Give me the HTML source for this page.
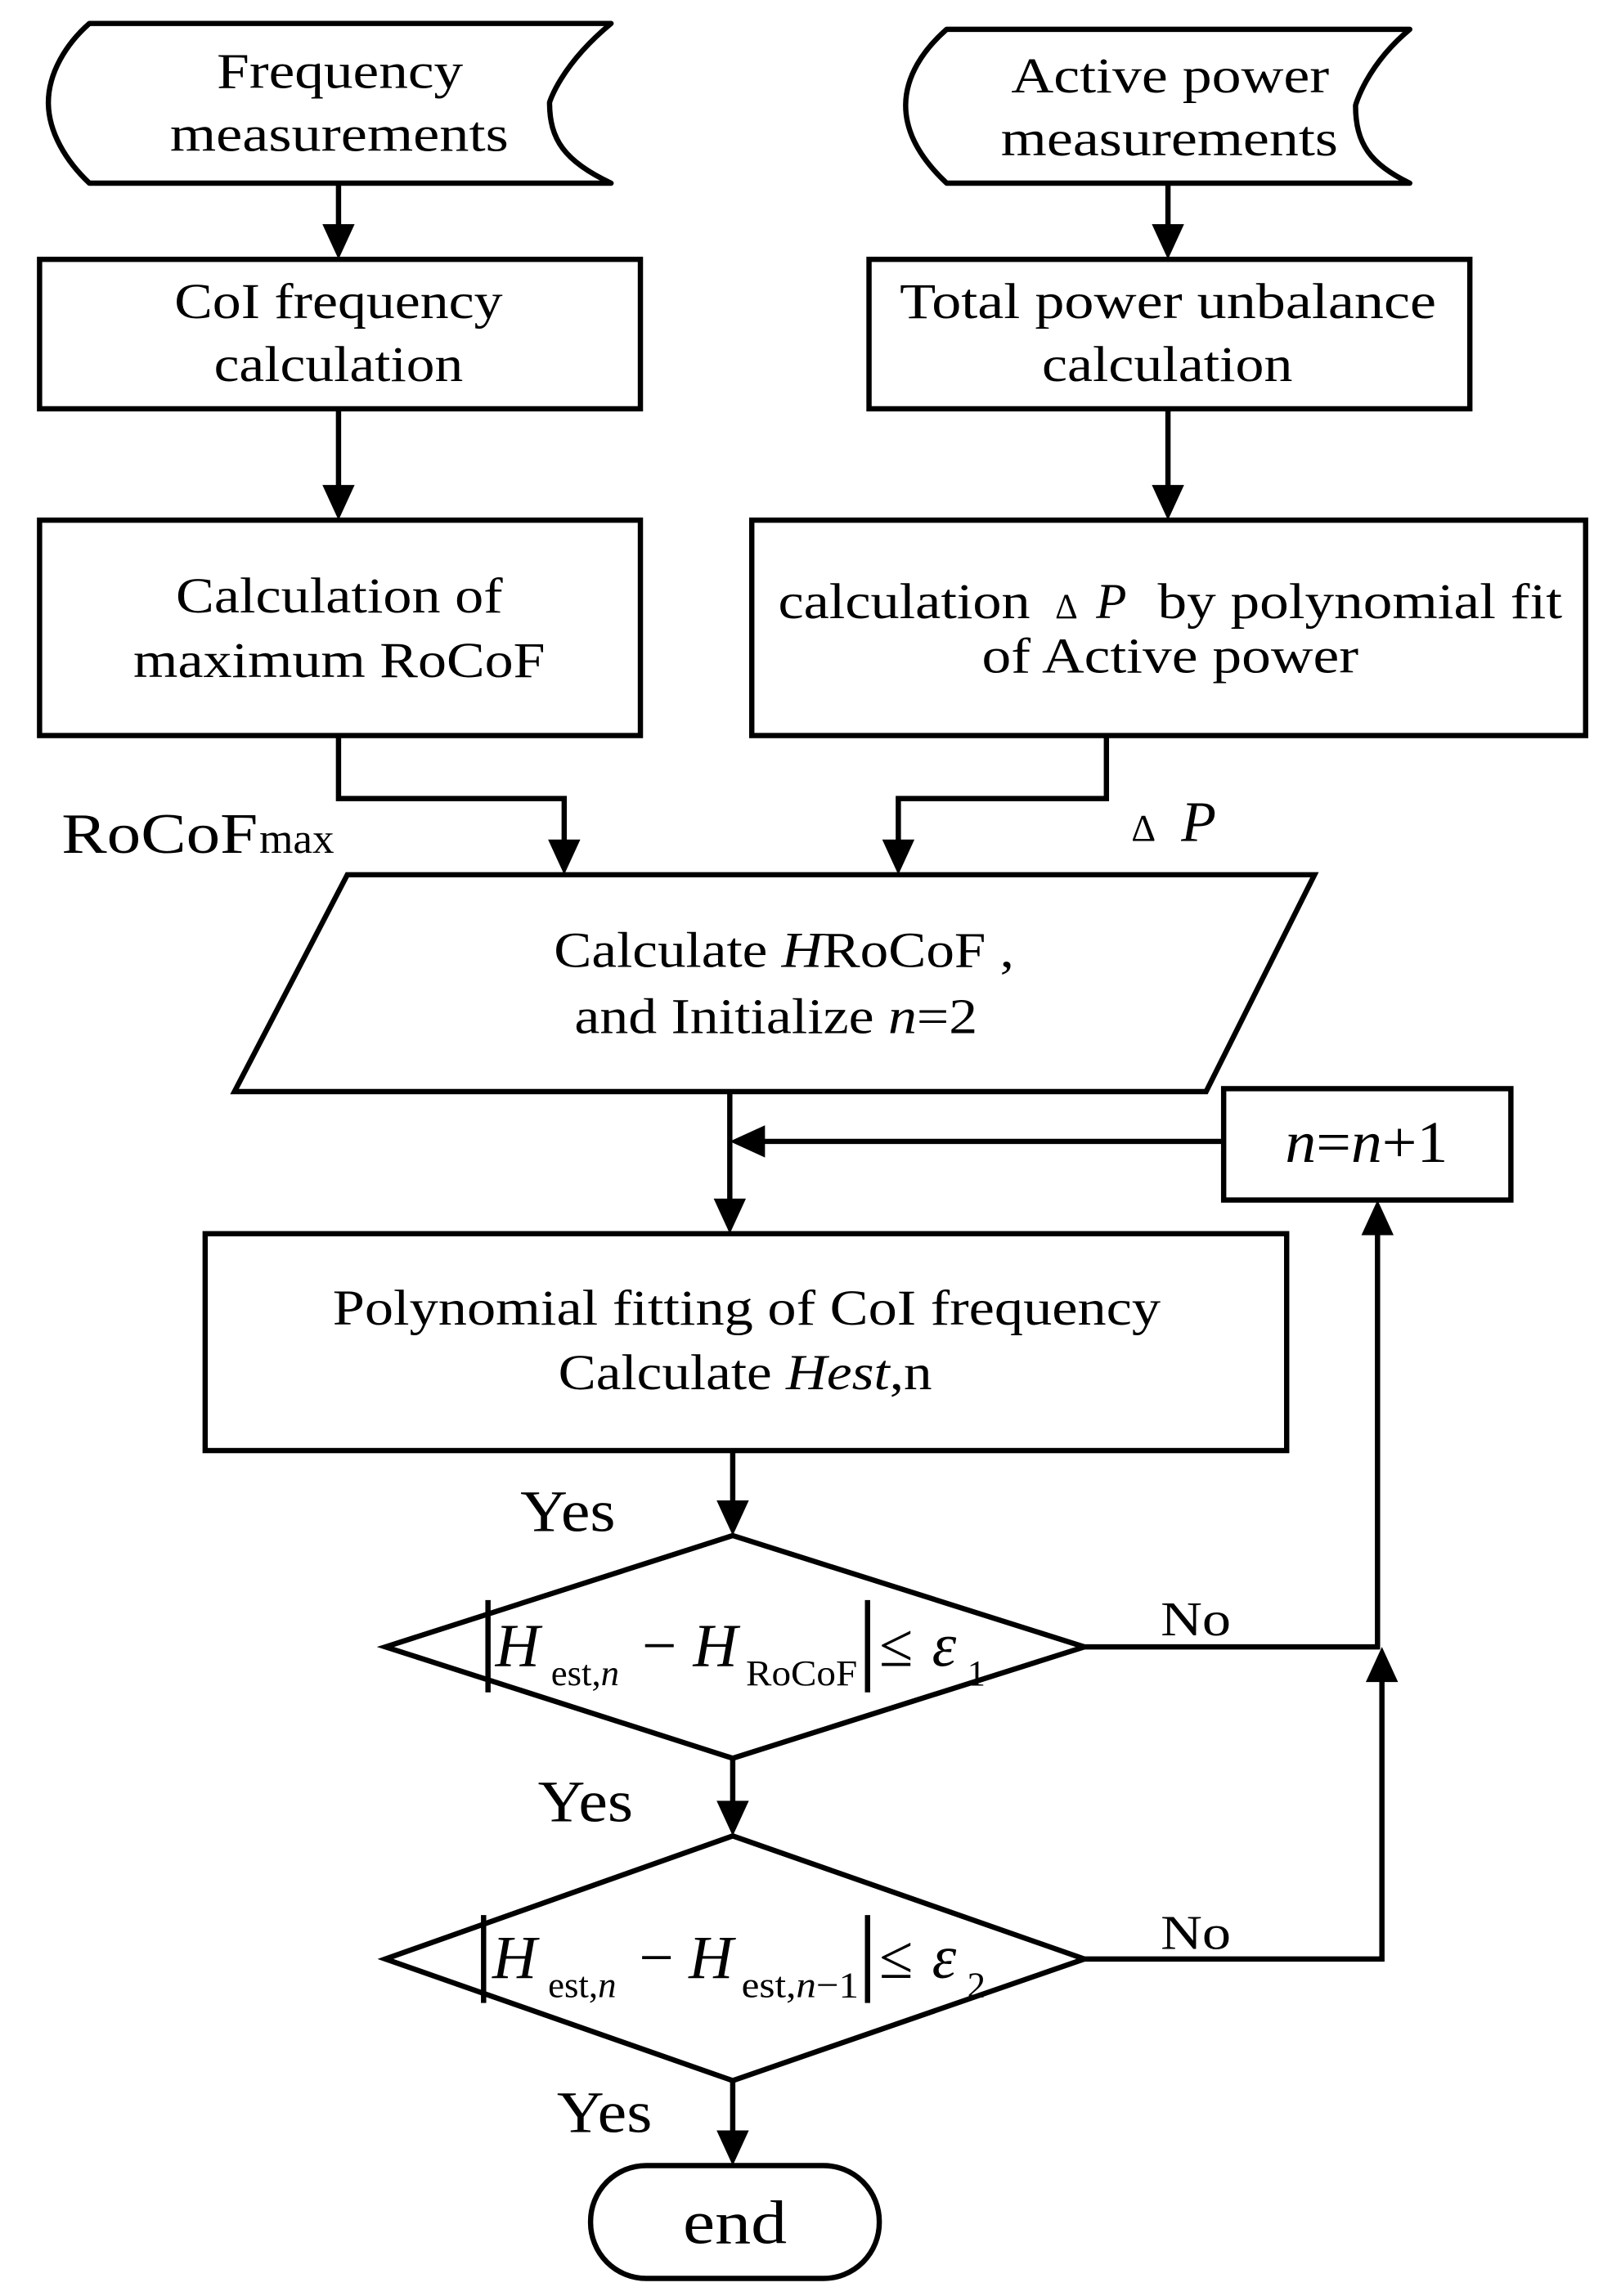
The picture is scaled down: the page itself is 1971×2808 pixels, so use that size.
<!DOCTYPE html>
<html><head><style>
html,body{margin:0;padding:0;background:#fff;}
svg{display:block;}
text{font-family:"Liberation Serif",serif;fill:#000;}
</style></head><body>
<svg width="1971" height="2808" viewBox="0 0 1100 1567" preserveAspectRatio="none" xmlns="http://www.w3.org/2000/svg">
<g fill="none" stroke="#000" stroke-width="3.6">
<path d="M61,16 L417,16 C382,45 375,70 375,70 C375,95 385,110 417,125 L61,125 C45,110 33,90 33,70 C33,50 45,30 61,16 Z" stroke-linejoin="round"/>
<path d="M646,20 L962,20 C932,45 925,72 925,72 C925,98 935,112 962,125 L646,125 C630,110 618,92 618,72 C618,52 630,34 646,20 Z" stroke-linejoin="round"/>
<rect x="27" y="177" width="410" height="102"/>
<rect x="593" y="177" width="410" height="102"/>
<rect x="27" y="355" width="410" height="147"/>
<rect x="513" y="355" width="569" height="147"/>
<polygon points="237,597 897,597 823,745 160,745"/>
<rect x="835" y="743" width="196" height="76"/>
<rect x="140" y="842" width="738" height="148"/>
<polygon points="263,1124 500,1048 740,1124 500,1200"/>
<polygon points="263,1337 500,1253 740,1337 500,1420"/>
<rect x="403" y="1478" width="197" height="77" rx="38"/>
<line x1="231" y1="125" x2="231" y2="155"/>
<line x1="797" y1="125" x2="797" y2="155"/>
<line x1="231" y1="279" x2="231" y2="333"/>
<line x1="797" y1="279" x2="797" y2="333"/>
<polyline points="231,502 231,545 385,545 385,575"/>
<polyline points="755,502 755,545 613,545 613,575"/>
<line x1="498" y1="745" x2="498" y2="820"/>
<line x1="835" y1="779" x2="520" y2="779"/>
<line x1="500" y1="990" x2="500" y2="1026"/>
<line x1="500" y1="1200" x2="500" y2="1231"/>
<line x1="500" y1="1420" x2="500" y2="1456"/>
<polyline points="740,1124 940,1124 940,841"/>
<polyline points="740,1337 943,1337 943,1146"/>
<line x1="333" y1="1092" x2="333" y2="1155"/>
<line x1="592" y1="1092" x2="592" y2="1155"/>
<line x1="330" y1="1307" x2="330" y2="1367"/>
<line x1="592" y1="1307" x2="592" y2="1367"/>
</g>
<g fill="#000">
<polygon points="220,153 242,153 231,177"/>
<polygon points="786,153 808,153 797,177"/>
<polygon points="220,331 242,331 231,355"/>
<polygon points="786,331 808,331 797,355"/>
<polygon points="374,573 396,573 385,597"/>
<polygon points="602,573 624,573 613,597"/>
<polygon points="487,818 509,818 498,842"/>
<polygon points="522,768 522,790 498,779"/>
<polygon points="489,1024 511,1024 500,1048"/>
<polygon points="489,1229 511,1229 500,1253"/>
<polygon points="489,1454 511,1454 500,1478"/>
<polygon points="929,843 951,843 940,819"/>
<polygon points="932,1148 954,1148 943,1124"/>
</g>
<g font-size="34">
<text x="148" y="60" textLength="168" lengthAdjust="spacingAndGlyphs">Frequency</text>
<text x="116" y="103" textLength="231" lengthAdjust="spacingAndGlyphs">measurements</text>
<text x="690" y="63" textLength="217" lengthAdjust="spacingAndGlyphs">Active power</text>
<text x="683" y="106" textLength="230" lengthAdjust="spacingAndGlyphs">measurements</text>
<text x="119" y="217" textLength="224" lengthAdjust="spacingAndGlyphs">CoI frequency</text>
<text x="146" y="260" textLength="170" lengthAdjust="spacingAndGlyphs">calculation</text>
<text x="614" y="217" textLength="366" lengthAdjust="spacingAndGlyphs">Total power unbalance</text>
<text x="711" y="260" textLength="171" lengthAdjust="spacingAndGlyphs">calculation</text>
<text x="120" y="418" textLength="223" lengthAdjust="spacingAndGlyphs">Calculation of</text>
<text x="91" y="462" textLength="281" lengthAdjust="spacingAndGlyphs">maximum RoCoF</text>
<text x="531" y="422" textLength="172" lengthAdjust="spacingAndGlyphs">calculation</text>
<text x="720" y="422" font-size="24">Δ</text>
<text x="748" y="422" font-style="italic">P</text>
<text x="790" y="422" textLength="276" lengthAdjust="spacingAndGlyphs">by polynomial fit</text>
<text x="670" y="459" textLength="257" lengthAdjust="spacingAndGlyphs">of Active power</text>
<text x="378" y="660" textLength="314" lengthAdjust="spacingAndGlyphs">Calculate <tspan font-style="italic">H</tspan>RoCoF ,</text>
<text x="392" y="705" textLength="275" lengthAdjust="spacingAndGlyphs">and Initialize <tspan font-style="italic">n</tspan>=2</text>
<text x="227" y="904" textLength="565" lengthAdjust="spacingAndGlyphs">Polynomial fitting of CoI frequency</text>
<text x="381" y="948" textLength="255" lengthAdjust="spacingAndGlyphs">Calculate <tspan font-style="italic">Hest</tspan>,n</text>
</g>
<text x="42" y="582" font-size="39" textLength="134" lengthAdjust="spacingAndGlyphs">RoCoF</text>
<text x="177" y="582" font-size="29" textLength="51" lengthAdjust="spacingAndGlyphs">max</text>
<text x="772" y="574" font-size="26">Δ</text>
<text x="806" y="574" font-size="39" font-style="italic">P</text>
<text x="877" y="793" font-size="40" textLength="111" lengthAdjust="spacingAndGlyphs"><tspan font-style="italic">n</tspan>=<tspan font-style="italic">n</tspan>+1</text>
<text x="355" y="1045" font-size="40" textLength="65" lengthAdjust="spacingAndGlyphs">Yes</text>
<text x="367" y="1243" font-size="40" textLength="65" lengthAdjust="spacingAndGlyphs">Yes</text>
<text x="380" y="1455" font-size="40" textLength="65" lengthAdjust="spacingAndGlyphs">Yes</text>
<text x="792" y="1116" font-size="33" textLength="48" lengthAdjust="spacingAndGlyphs">No</text>
<text x="792" y="1330" font-size="33" textLength="48" lengthAdjust="spacingAndGlyphs">No</text>
<g font-size="42">
<text x="338" y="1137" font-style="italic">H</text>
<text x="376" y="1150" font-size="25">est,<tspan font-style="italic">n</tspan></text>
<text x="438" y="1137">−</text>
<text x="473" y="1137" font-style="italic">H</text>
<text x="509" y="1150" font-size="25" textLength="76" lengthAdjust="spacingAndGlyphs">RoCoF</text>
<text x="600" y="1137">≤</text>
<text x="636" y="1137" font-style="italic">ε</text>
<text x="660" y="1150" font-size="25">1</text>
<text x="336" y="1350" font-style="italic">H</text>
<text x="374" y="1363" font-size="25">est,<tspan font-style="italic">n</tspan></text>
<text x="436" y="1350">−</text>
<text x="470" y="1350" font-style="italic">H</text>
<text x="506" y="1363" font-size="25" textLength="80" lengthAdjust="spacingAndGlyphs">est,<tspan font-style="italic">n</tspan>−1</text>
<text x="600" y="1350">≤</text>
<text x="636" y="1350" font-style="italic">ε</text>
<text x="660" y="1363" font-size="25">2</text>
</g>
<text x="466" y="1531" font-size="42" textLength="71" lengthAdjust="spacingAndGlyphs">end</text>
</svg>
</body></html>
